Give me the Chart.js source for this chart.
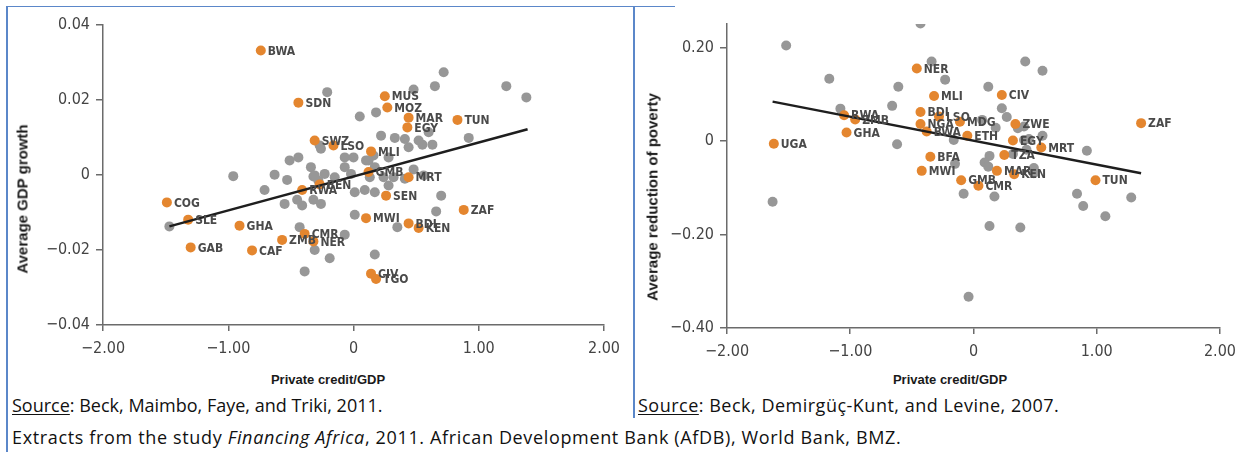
<!DOCTYPE html>
<html>
<head>
<meta charset="utf-8">
<script src="https://cdn.jsdelivr.net/npm/chart.js@4.4.1/dist/chart.umd.min.js"></script>
<style>
  html, body { margin: 0; padding: 0; background: #fff; }
  body { width: 1244px; height: 452px; position: relative; overflow: hidden; }
  canvas { position: absolute; }
  .rule { position: absolute; background: #5b87c9; }
  .ytitle { position: absolute; font: bold 15px "Liberation Sans", Arial, sans-serif; color: #1a1a1a;
            white-space: nowrap; transform: translate(-50%, -50%) rotate(-90deg); }
  .xtitle { position: absolute; font: bold 13px "Liberation Sans", Arial, sans-serif; color: #1a1a1a;
            white-space: nowrap; transform: translate(-50%, -50%); }
  .note { position: absolute; font: 18px "Open Sans", "Liberation Sans", sans-serif; color: #111;
          white-space: nowrap; line-height: 22px; }
  .note u { text-decoration-thickness: 1px; text-underline-offset: 2px; }
</style>
</head>
<body>

<div class="rule" style="left:6px;top:6px;width:2px;height:446px;"></div>
<div class="rule" style="left:6px;top:6px;width:628px;height:1px;"></div>
<div class="rule" style="left:633px;top:6px;width:2px;height:412px;"></div>
<div class="rule" style="left:633px;top:6px;width:42px;height:1px;"></div>

<canvas id="gdpChart" width="634" height="362" style="left:0;top:0;"></canvas>
<canvas id="povChart" width="610" height="362" style="left:634px;top:0;"></canvas>

<div class="ytitle" style="left:22px;top:199px;">Average GDP growth</div>
<div class="ytitle" style="left:652px;top:197px;">Average reduction of poverty</div>
<div class="xtitle" style="left:328px;top:379px;">Private credit/GDP</div>
<div class="xtitle" style="left:950px;top:379px;">Private credit/GDP</div>

<div class="note" style="left:12px;top:394px;"><u>Source</u>: Beck, Maimbo, Faye, and Triki, 2011.</div>
<div class="note" style="left:638px;top:394px;letter-spacing:0.5px;"><u>Source</u>: Beck, Demirgüç-Kunt, and Levine, 2007.</div>
<div class="note" style="left:12px;top:426px;letter-spacing:0.65px;">Extracts from the study <i>Financing Africa</i>, 2011. African Development Bank (AfDB), World Bank, BMZ.</div>

<script>
// ---- Panel 1: average GDP growth vs private credit/GDP ----
const gdpGrayX = [0.72, 0.65, 0.48, 1.22, 1.38, -0.21, 0.05, 0.18, 0.60, 0.22, 0.33, 0.41, 0.44, 0.55, 0.63, 0.92,
  -0.07, 0.00, 0.10, 0.16, 0.28, -0.34, -0.07, 0.13, 0.24, 0.32, 0.56, 0.01, 0.09, 0.17, 0.70, 0.01, 0.66, 0.35,
  -0.07, -0.31, -0.19, -0.39, 0.17, -0.63, -0.53, -0.71, -0.55, -0.45, -0.41, -0.32, -0.26, -0.43, 0.28, -0.32,
  -0.28, -0.23, -0.15, 0.41, 0.52, -0.26, -0.51, -0.44, -0.31, -0.02, 0.12, 0.17, -0.96, -0.27, 0.48, -1.47];
const gdpGrayY = [0.0274, 0.0237, 0.0228, 0.0237, 0.0207, 0.0221, 0.0156, 0.0167, 0.0114, 0.0105, 0.0099, 0.0096,
  0.0074, 0.0081, 0.0081, 0.0099, 0.0047, 0.0047, 0.0039, 0.0052, 0.0047, 0.0021, 0.0021, -0.0006, -0.0006, -0.0006,
  -0.0001, -0.0046, -0.0040, -0.0046, -0.0055, -0.0106, -0.0097, -0.0139, -0.0159, -0.0200, -0.0222, -0.0257,
  -0.0212, 0.0001, -0.0013, -0.0040, -0.0077, -0.0066, -0.0081, -0.0066, -0.0077, -0.0139, -0.0028, -0.0004,
  -0.0015, 0.0003, -0.0006, -0.0010, 0.0092, 0.0070, 0.0039, 0.0047, -0.0001, 0.0003, 0.0039, 0.0021, -0.0003,
  0.0079, 0.0015, -0.0137];

const gdpCodes = ['BWA', 'SDN', 'MUS', 'MOZ', 'MAR', 'EGY', 'TUN', 'SWZ', 'LSO', 'MLI', 'GMB', 'MRT', 'BEN', 'RWA',
  'SEN', 'MWI', 'ZAF', 'BDI', 'KEN', 'CMR', 'NER', 'ZMB', 'CAF', 'GHA', 'GAB', 'SLE', 'COG', 'CIV', 'TGO'];
const gdpX = [-0.74, -0.44, 0.25, 0.27, 0.44, 0.43, 0.83, -0.31, -0.16, 0.14, 0.12, 0.44, -0.27, -0.41,
  0.26, 0.10, 0.88, 0.44, 0.52, -0.39, -0.32, -0.57, -0.81, -0.91, -1.30, -1.32, -1.49, 0.14, 0.18];
const gdpY = [0.0332, 0.0193, 0.0210, 0.0180, 0.0153, 0.0127, 0.0147, 0.0092, 0.0079, 0.0063, 0.0008, -0.0006,
  -0.0025, -0.0040, -0.0055, -0.0115, -0.0093, -0.0129, -0.0141, -0.0157, -0.0177, -0.0173, -0.0201, -0.0135,
  -0.0193, -0.0119, -0.0073, -0.0263, -0.0277];

const gdpFitX = [-1.47, 1.39];
const gdpFitY = [-0.0137, 0.0122];

const gdpXTicks = [-2, -1, 0, 1, 2];
const gdpXTickLabels = ['\u22122.00', '\u22121.00', '0', '1.00', '2.00'];
const gdpYTicks = [-0.04, -0.02, 0, 0.02, 0.04];
const gdpYTickLabels = ['\u22120.04', '\u22120.02', '0', '0.02', '0.04'];

// ---- Panel 2: average reduction of poverty vs private credit/GDP ----
const povGrayX = [-0.43, -1.52, -1.17, -0.34, -0.61, -0.66, -1.08, -0.62, -0.23, -1.63, 0.12, 0.42, 0.56, 0.23,
  0.27, 0.07, 0.18, 0.36, 0.41, 0.41, 0.45, 0.56, -0.16, 0.43, 0.32, 0.13, 0.09, 0.12, -0.15, 0.49, 0.49, 0.92,
  -0.08, 0.17, 0.84, 1.28, 0.89, 1.07, 0.13, 0.38, -0.04];
const povGrayY = [0.251, 0.204, 0.133, 0.170, 0.116, 0.075, 0.069, -0.007, 0.131, -0.130, 0.116, 0.170, 0.150,
  0.070, 0.051, 0.045, 0.028, 0.027, 0.031, 0.002, 0.004, 0.011, 0.002, -0.019, -0.028, -0.032, -0.046, -0.055,
  -0.049, -0.058, -0.069, -0.021, -0.113, -0.119, -0.113, -0.121, -0.139, -0.161, -0.182, -0.185, -0.333];

const povCodes = ['UGA', 'RWA', 'ZMB', 'GHA', 'NER', 'MLI', 'BDI', 'NGA', 'BWA', 'LSO', 'MDG', 'ETH', 'BFA',
  'MWI', 'CIV', 'ZWE', 'EGY', 'MRT', 'TZA', 'MAR', 'KEN', 'GMB', 'CMR', 'TUN', 'ZAF'];
const povX = [-1.62, -1.05, -0.96, -1.03, -0.46, -0.32, -0.43, -0.43, -0.38, -0.28, -0.11, -0.05, -0.35,
  -0.42, 0.23, 0.34, 0.32, 0.55, 0.25, 0.19, 0.33, -0.10, 0.04, 0.99, 1.36];
const povY = [-0.006, 0.055, 0.046, 0.018, 0.155, 0.096, 0.062, 0.036, 0.020, 0.052, 0.041, 0.011, -0.034,
  -0.064, 0.098, 0.036, 0.001, -0.014, -0.030, -0.064, -0.071, -0.084, -0.096, -0.084, 0.038];

const povFitX = [-1.63, 1.36];
const povFitY = [0.084, -0.069];

const povXTicks = [-2, -1, 0, 1, 2];
const povXTickLabels = ['\u22122.00', '\u22121.00', '0', '1.00', '2.00'];
const povYTicks = [-0.40, -0.20, 0, 0.20];
const povYTickLabels = ['\u22120.40', '\u22120.20', '0', '0.20'];

// ---- shared styling ----
const GRAY = '#979797';
const ORANGE = '#e4862f';
const AXIS = '#6b6b6b';
const TICK_FONT = { family: '"DejaVu Sans Condensed", "Liberation Sans Narrow", sans-serif', size: 16 };
const CODE_FONT = 'bold 12px "DejaVu Sans Condensed", "Liberation Sans Narrow", sans-serif';

const zip = (xs, ys) => xs.map((x, i) => ({ x, y: ys[i] }));

// writes the country code beside each highlighted point
const codeLabels = {
  id: 'codeLabels',
  afterDatasetsDraw(chart) {
    const ds = chart.data.datasets.findIndex(d => d.codes);
    if (ds < 0) return;
    const codes = chart.data.datasets[ds].codes;
    const ctx = chart.ctx;
    ctx.save();
    ctx.font = CODE_FONT;
    ctx.fillStyle = '#4a4a4a';
    ctx.textBaseline = 'middle';
    ctx.textAlign = 'left';
    chart.getDatasetMeta(ds).data.forEach((pt, i) => {
      ctx.fillText(codes[i], pt.x + 7, pt.y + 1);
    });
    ctx.restore();
  }
};

function makeChart(id, cfg) {
  const tickScale = (values, labels, extra) => Object.assign({
    type: 'linear',
    afterBuildTicks: s => { s.ticks = values.map(v => ({ value: v })); },
    ticks: {
      font: TICK_FONT, color: '#444', padding: extra.pad,
      callback: (v, i) => labels[i]
    },
    grid: { drawOnChartArea: false, drawTicks: true, tickLength: extra.tl, color: AXIS, lineWidth: 1.5 },
    border: { display: true, color: AXIS, width: 1.5 }
  }, extra.opts);

  return new Chart(document.getElementById(id), {
    type: 'scatter',
    data: {
      datasets: [
        { data: zip(cfg.fitX, cfg.fitY), showLine: true, borderColor: '#1e1e1e', borderWidth: 2.5,
          pointRadius: 0, order: 0 },
        { data: zip(cfg.hiX, cfg.hiY), codes: cfg.codes, backgroundColor: ORANGE, borderWidth: 0,
          pointRadius: 5, order: 1 },
        { data: zip(cfg.grayX, cfg.grayY), backgroundColor: GRAY, borderWidth: 0, pointRadius: 5, order: 2 }
      ]
    },
    options: {
      responsive: false,
      animation: false,
      devicePixelRatio: 1,
      layout: { padding: cfg.padding },
      plugins: { legend: { display: false }, tooltip: { enabled: false } },
      scales: {
        x: tickScale(cfg.xTicks, cfg.xLabels, {
          pad: 8, tl: 6,
          opts: { min: -2, max: 2, afterFit: s => { s.height = cfg.xHeight; } }
        }),
        y: tickScale(cfg.yTicks, cfg.yLabels, {
          pad: 6, tl: 7,
          opts: { min: cfg.yMin, max: cfg.yMax, afterFit: s => { s.width = cfg.yWidth; } }
        })
      }
    },
    plugins: [codeLabels]
  });
}

makeChart('gdpChart', {
  grayX: gdpGrayX, grayY: gdpGrayY, hiX: gdpX, hiY: gdpY, codes: gdpCodes,
  fitX: gdpFitX, fitY: gdpFitY,
  xTicks: gdpXTicks, xLabels: gdpXTickLabels, yTicks: gdpYTicks, yLabels: gdpYTickLabels,
  yMin: -0.04, yMax: 0.04,
  padding: { left: 0, top: 25, right: 30, bottom: 0 },
  yWidth: 103, xHeight: 37
});

makeChart('povChart', {
  grayX: povGrayX, grayY: povGrayY, hiX: povX, hiY: povY, codes: povCodes,
  fitX: povFitX, fitY: povFitY,
  xTicks: povXTicks, xLabels: povXTickLabels, yTicks: povYTicks, yLabels: povYTickLabels,
  yMin: -0.40, yMax: 0.25,
  padding: { left: 0, top: 24, right: 15, bottom: 0 },
  yWidth: 93, xHeight: 34
});
</script>
</body>
</html>
